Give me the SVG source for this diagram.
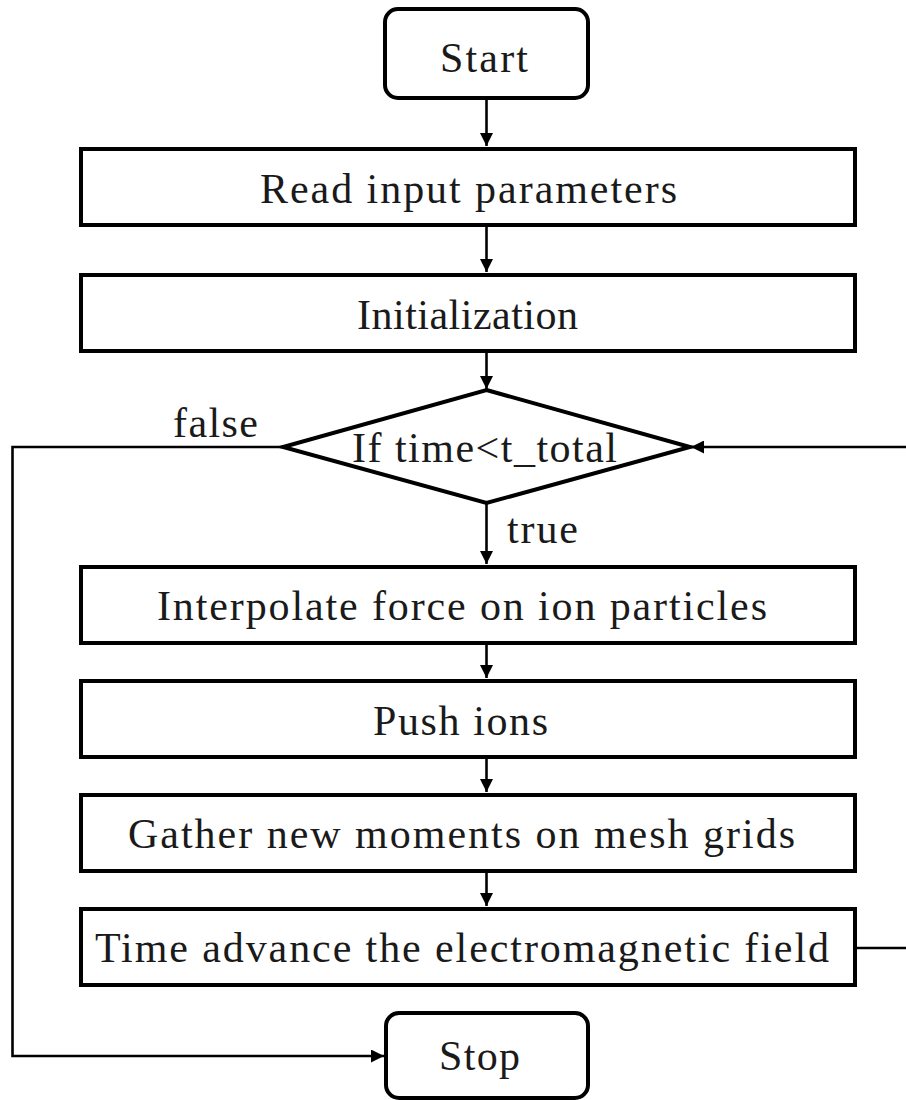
<svg xmlns="http://www.w3.org/2000/svg" width="906" height="1100" viewBox="0 0 906 1100">
  <style>
    .box { fill: #ffffff; stroke: #000000; stroke-width: 4; }
    .lbl { font-family: "Liberation Serif", "Times New Roman", serif; font-size: 42px; font-weight: normal; fill: #1a1a1a; }
    .edge { fill: none; stroke: #000000; stroke-width: 2.6; }
  </style>
  <defs>
    <marker id="arrow" markerUnits="userSpaceOnUse" markerWidth="14" markerHeight="13" refX="13" refY="6.5" orient="auto">
      <path d="M0,0 L13,6.5 L0,13 z" fill="#000000"/>
    </marker>
  </defs>

  <rect width="906" height="1100" fill="#ffffff"/>

  <!-- connectors -->
  <g id="connectors">
    <path class="edge" d="M486.5,98 V146" marker-end="url(#arrow)"/>
    <path class="edge" d="M486.5,227 V272" marker-end="url(#arrow)"/>
    <path class="edge" d="M486.5,353 V389" marker-end="url(#arrow)"/>
    <path class="edge" d="M486.5,503 V564" marker-end="url(#arrow)"/>
    <path class="edge" d="M486.5,645 V678" marker-end="url(#arrow)"/>
    <path class="edge" d="M486.5,759 V792" marker-end="url(#arrow)"/>
    <path class="edge" d="M486.5,873 V906" marker-end="url(#arrow)"/>
    <!-- false branch to Stop -->
    <path class="edge" d="M283,447 H12.5 V1056 H384" marker-end="url(#arrow)"/>
    <!-- loop back from field update to the condition -->
    <path class="edge" d="M857,948 H912 V447 H691" marker-end="url(#arrow)"/>
    <text class="lbl" x="173" y="437" textLength="85" lengthAdjust="spacing">false</text>
    <text class="lbl" x="507" y="543" textLength="71" lengthAdjust="spacing">true</text>
  </g>

  <g id="start">
    <rect class="box" x="385" y="9" width="203" height="89" rx="13"/>
    <text class="lbl" x="440" y="72" textLength="88" lengthAdjust="spacing">Start</text>
  </g>

  <g id="read-input">
    <rect class="box" x="81" y="149" width="774" height="76"/>
    <text class="lbl" x="260" y="203" textLength="417" lengthAdjust="spacing">Read input parameters</text>
  </g>

  <g id="initialization">
    <rect class="box" x="81" y="275" width="774" height="76"/>
    <text class="lbl" x="357" y="329" textLength="221" lengthAdjust="spacing">Initialization</text>
  </g>

  <g id="condition">
    <polygon class="box" points="486.5,390 690,447 486.5,503 283,447"/>
    <text class="lbl" x="352" y="462" textLength="265" lengthAdjust="spacing">If time&lt;t_total</text>
  </g>

  <g id="interpolate">
    <rect class="box" x="81" y="567" width="774" height="76"/>
    <text class="lbl" x="157" y="620" textLength="610" lengthAdjust="spacing">Interpolate force on ion particles</text>
  </g>

  <g id="push">
    <rect class="box" x="81" y="681" width="774" height="76"/>
    <text class="lbl" x="373" y="735" textLength="175" lengthAdjust="spacing">Push ions</text>
  </g>

  <g id="gather">
    <rect class="box" x="81" y="795" width="774" height="76"/>
    <text class="lbl" x="128" y="848" textLength="667" lengthAdjust="spacing">Gather new moments on mesh grids</text>
  </g>

  <g id="field-advance">
    <rect class="box" x="81" y="909" width="774" height="76"/>
    <text class="lbl" x="95" y="962" textLength="734" lengthAdjust="spacing">Time advance the electromagnetic field</text>
  </g>

  <g id="stop">
    <rect class="box" x="386" y="1013" width="202" height="85" rx="13"/>
    <text class="lbl" x="439" y="1070" textLength="81" lengthAdjust="spacing">Stop</text>
  </g>
</svg>
